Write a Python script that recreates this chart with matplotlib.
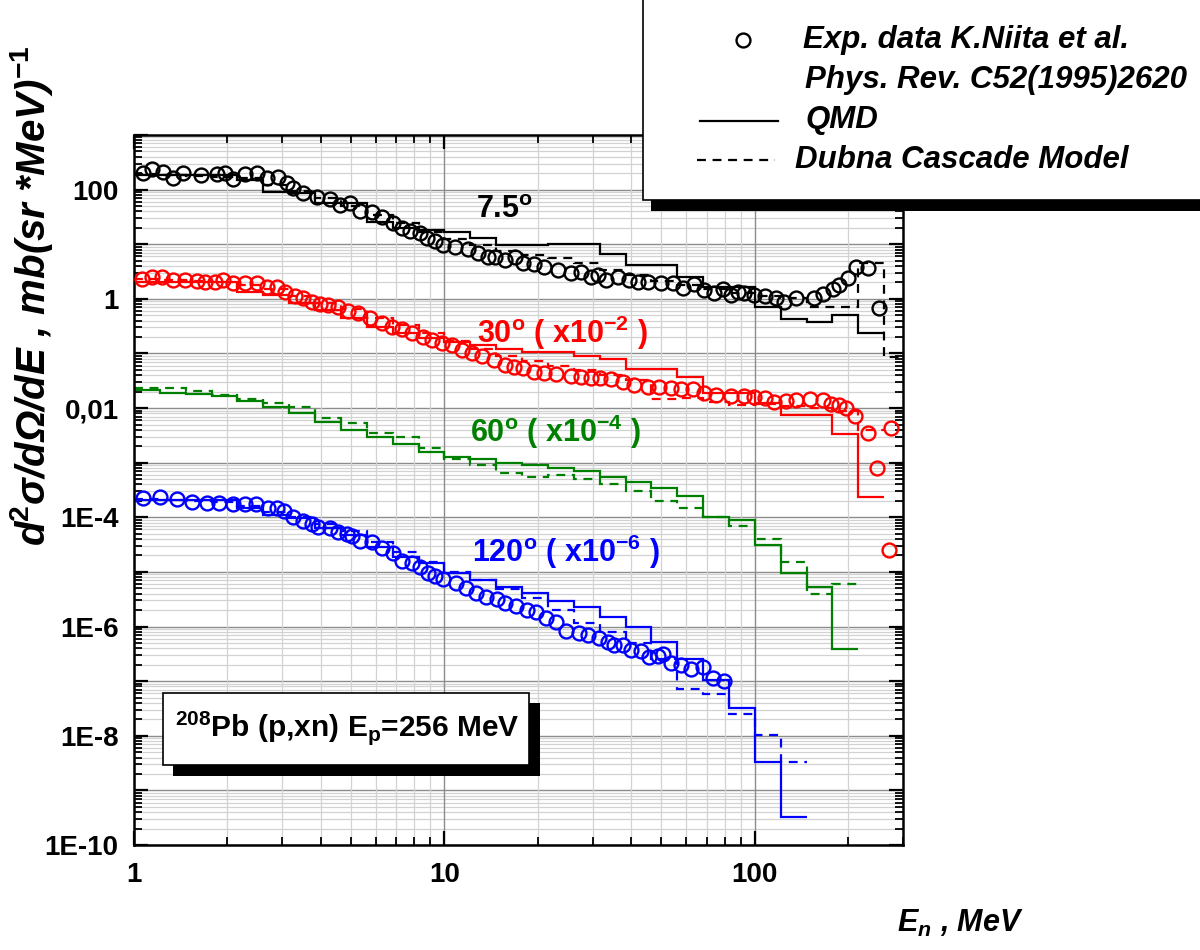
import numpy as np
import matplotlib
matplotlib.use('Agg')
import matplotlib.pyplot as plt
from matplotlib.ticker import FixedLocator, FuncFormatter, LogLocator, NullFormatter
from matplotlib.patches import Rectangle
from matplotlib.lines import Line2D

plt.rcParams['font.family'] = ['Liberation Sans', 'DejaVu Sans']
plt.rcParams['font.weight'] = 'bold'
plt.rcParams['mathtext.fontset'] = 'custom'
plt.rcParams['mathtext.rm'] = 'Liberation Sans:bold'
plt.rcParams['mathtext.it'] = 'Liberation Sans:bold:italic'
plt.rcParams['mathtext.bf'] = 'Liberation Sans:bold'

# energy bin edges of the model histograms (12 per decade), MeV
E_EDGES = [1.0, 1.212, 1.468, 1.778, 2.154, 2.610, 3.162, 3.831, 4.642, 5.623,
           6.813, 8.254, 10.0, 12.12, 14.68, 17.78, 21.54, 26.10, 31.62, 38.31,
           46.42, 56.23, 68.13, 82.54, 100.0, 121.2, 146.8, 177.8, 215.4, 261.0, 316.2]

# 7.5 deg
e_exp_75 = [1.07, 1.14, 1.24, 1.34, 1.44, 1.64, 1.85, 1.97, 2.09, 2.28, 2.49, 2.69, 2.91, 3.12, 3.26,
            3.51, 3.89, 4.29, 4.62, 4.98, 5.36, 5.86, 6.31, 6.85, 7.32, 7.77, 8.37, 8.81, 9.29, 9.93,
            10.8, 11.9, 12.8, 13.8, 14.6, 15.7, 16.9, 17.9, 19.4, 20.9, 23.2, 25.5, 27.5, 29.6, 31.2,
            33.1, 36.1, 39.2, 42.0, 45.2, 49.7, 54.4, 58.6, 63.6, 68.4, 73.7, 78.8, 83.7, 88.2, 92.2,
            99.3, 108, 117, 124, 136, 155, 166, 179, 187, 200, 212, 232, 251]
exp_75 = [205, 243, 214, 166, 205, 188, 196, 205, 159, 196, 205, 166, 173, 134, 109,
          88, 74.5, 68.4, 53.1, 57.8, 41.2, 39.5, 32.0, 24.9, 20.1, 17.7, 16.3, 13.2, 11.6, 9.84,
          9.04, 8.3, 7.02, 5.93, 5.93, 5.22, 5.93, 4.6, 4.41, 3.89, 3.43, 3.02, 3.15, 2.55, 2.77,
          2.25, 2.55, 2.25, 2.07, 2.07, 1.98, 1.98, 1.60, 1.90, 1.47, 1.30, 1.54, 1.19, 1.36, 1.30,
          1.19, 1.15, 1.05, 0.889, 1.05, 1.05, 1.25, 1.54, 1.82, 2.44, 3.89, 3.73, 0.69]
qmd_75 = [183, 183, 183, 183, 152, 92, 85, 58, 58, 26, 20, 18.5, 17, 13.2, 9.8, 9.8, 10.3, 10.3,
          6.7, 4.2, 4.2, 2.55, 1.67, 1.67, 0.72, 0.42, 0.37, 0.51, 0.24]
dcm_75 = [190, 185, 175, 170, 160, 120, 95, 70, 50, 35, 24, 17, 12.5, 9.5, 7.5, 6.4, 5.5, 4.6,
          3.4, 2.7, 2.1, 1.8, 1.5, 1.3, 1.15, 1.05, 0.72, 0.72, 4.6, 0.087]

# 30 deg (x1e-2)
e_exp_30 = [1.06, 1.14, 1.23, 1.34, 1.46, 1.60, 1.69, 1.83, 1.94, 2.09, 2.28, 2.49, 2.69, 2.89, 3.07,
            3.30, 3.51, 3.75, 3.98, 4.22, 4.54, 4.89, 5.27, 5.76, 6.31, 6.79, 7.31,
            7.87, 8.5, 9.15, 9.84, 10.6, 11.4, 12.3, 13.2, 14.4,
            15.7, 16.7, 17.9, 19.4, 20.9, 22.8, 25.5, 27.5, 29.6, 31.8, 34.3, 37.5, 40.7, 45.2, 49.0,
            53.6, 57.7, 63.1, 68.4, 74.9, 83.7, 92.2, 99.3, 108, 115, 126, 136, 150, 166, 176,
            187, 196, 210, 232, 247, 274, 271]
exp_30 = [2.34, 2.55, 2.55, 2.25, 2.25, 2.16, 2.07, 2.07, 2.25, 1.98, 1.98, 1.98, 1.67, 1.67, 1.36,
          1.15, 1.05, 0.889, 0.817, 0.783, 0.72, 0.608, 0.559, 0.453, 0.366, 0.31, 0.284,
          0.24, 0.203, 0.18, 0.158, 0.14, 0.117, 0.103, 0.091, 0.077,
          0.0624, 0.0573, 0.0549, 0.0464, 0.0445, 0.0427, 0.0392, 0.0376, 0.036, 0.036, 0.0345, 0.0305,
          0.0268, 0.0247, 0.0247, 0.0236, 0.0227, 0.0227, 0.0191, 0.0176, 0.0169, 0.0169, 0.0162,
          0.0155, 0.0131, 0.0137, 0.0143, 0.0149, 0.0143, 0.012, 0.0115, 0.0102, 0.00726, 0.00354,
          0.00081, 0.00437, 2.55e-5]
qmd_30 = [2.07, 2.07, 2.07, 2.07, 1.36, 1.19, 0.85, 0.634, 0.453, 0.31, 0.24, 0.19, 0.165, 0.14,
          0.122, 0.108, 0.108, 0.088, 0.078, 0.0527, 0.0527, 0.0376, 0.0191, 0.0191, 0.0126,
          0.0076, 0.0076, 0.0033, 0.00024]
dcm_30 = [2.3, 2.2, 2.1, 2.0, 1.8, 1.5, 1.15, 0.85, 0.65, 0.45, 0.33, 0.24, 0.17, 0.12, 0.09,
          0.074, 0.06, 0.05, 0.04, 0.032, 0.0149, 0.015, 0.013, 0.0115, 0.012, 0.011, 0.010,
          0.009, 0.004]

# 60 deg (x1e-4), models only
qmd_60 = [0.0217, 0.0191, 0.0184, 0.0169, 0.0137, 0.0106, 0.00824, 0.00564, 0.00402, 0.00299,
          0.00223, 0.00159, 0.00129, 0.00118, 0.0010, 0.00092, 0.0008, 0.0007, 0.00055, 0.00045,
          0.00035, 0.00025, 1.03e-4, 9e-5, 3.1e-5, 9.7e-6, 5.4e-6, 3.9e-7]
dcm_60 = [0.0236, 0.0236, 0.0208, 0.0176, 0.0149, 0.0126, 0.0106, 0.00667, 0.0054, 0.00354,
          0.0030, 0.00188, 0.00118, 0.00092, 0.00066, 0.00055, 0.0006, 0.0005, 0.0004, 0.0003,
          0.0002, 0.00015, 1.0e-4, 7e-5, 4e-5, 1.5e-5, 4e-6, 6.1e-6]

# 120 deg (x1e-6)
e_exp_120 = [1.07, 1.21, 1.38, 1.54, 1.72, 1.88, 2.09, 2.28, 2.48, 2.71, 2.89, 3.05, 3.26, 3.51,
             3.75, 3.92, 4.29, 4.55, 4.87, 5.05, 5.36, 5.86, 6.31, 6.85, 7.32, 7.89, 8.37, 8.82,
             9.35, 9.93, 10.9, 11.7, 12.6, 13.6, 14.8, 15.7, 17.0, 18.5, 19.7, 21.2, 22.8, 24.6,
             27.1, 29.1, 31.4, 33.6, 35.1, 37.5, 39.8, 42.9, 45.5, 48.7, 50.5, 53.6, 57.7, 62.2,
             68.0, 73.2, 79.4]
exp_120 = [2.29e-4, 2.38e-4, 2.19e-4, 1.93e-4, 1.85e-4, 1.85e-4, 1.77e-4, 1.77e-4, 1.77e-4,
           1.50e-4, 1.50e-4, 1.32e-4, 1.03e-4, 8.67e-5, 7.64e-5, 6.73e-5, 6.46e-5, 5.45e-5,
           5.01e-5, 4.61e-5, 3.73e-5, 3.57e-5, 2.77e-5, 2.25e-5, 1.60e-5, 1.47e-5, 1.24e-5,
           9.66e-6, 8.51e-6, 7.5e-6, 6.34e-6, 5.14e-6, 4.16e-6, 3.52e-6, 3.23e-6, 2.73e-6,
           2.40e-6, 2.03e-6, 1.87e-6, 1.45e-6, 1.22e-6, 8.38e-7, 7.69e-7, 7.08e-7, 6.24e-7,
           5.27e-7, 4.64e-7, 4.64e-7, 3.76e-7, 3.61e-7, 2.80e-7, 2.92e-7, 3.18e-7, 2.17e-7,
           2.0e-7, 1.69e-7, 1.84e-7, 1.15e-7, 1.02e-7]
qmd_120 = [2.1e-4, 2.1e-4, 2.1e-4, 2.1e-4, 1.5e-4, 1.12e-4, 9.8e-5, 6.5e-5, 4.8e-5, 2.9e-5,
           1.9e-5, 1.47e-5, 9.66e-6, 7.2e-6, 5.36e-6, 4.16e-6, 2.97e-6, 2.31e-6, 1.51e-6,
           9.9e-7, 5.27e-7, 2.57e-7, 1.06e-7, 3.26e-8, 3.34e-9, 3.28e-10]
dcm_120 = [2.2e-4, 2.1e-4, 2.0e-4, 1.9e-4, 1.6e-4, 1.25e-4, 1.0e-4, 7.5e-5, 5.5e-5, 3.6e-5,
           2.3e-5, 1.5e-5, 1.0e-5, 7.0e-6, 4.8e-6, 3.3e-6, 2.0e-6, 1.17e-6, 8.0e-7, 5.0e-7,
           2.5e-7, 7.3e-8, 5.9e-8, 2.5e-8, 1.04e-8, 3.3e-9]

Y_LABELS = {2: '100', 0: '1', -2: '0,01', -4: '1E-4', -6: '1E-6', -8: '1E-8', -10: '1E-10'}

W, H = 1200, 950
fig = plt.figure(figsize=(W / 100, H / 100), dpi=100)


def fx(px):
    return px / W


def fy(py):
    return 1 - py / H


ax = fig.add_axes([fx(134), fy(845), (903 - 134) / W, (845 - 135) / H])
ax.set_xscale('log')
ax.set_yscale('log')
ax.set_xlim(1, 300)
ax.set_ylim(1e-10, 1e3)

ax.xaxis.set_major_locator(FixedLocator([1, 10, 100]))
ax.xaxis.set_major_formatter(FuncFormatter(lambda v, p: '%d' % round(v)))
ax.xaxis.set_minor_locator(LogLocator(base=10, subs=np.arange(2, 10), numticks=30))
ax.xaxis.set_minor_formatter(NullFormatter())
ax.yaxis.set_major_locator(FixedLocator([10.0 ** k for k in range(-10, 4)]))
ax.yaxis.set_major_formatter(FuncFormatter(lambda v, p: Y_LABELS.get(int(round(np.log10(v))), '')))
ax.yaxis.set_minor_locator(LogLocator(base=10, subs=np.arange(2, 10), numticks=30))
ax.yaxis.set_minor_formatter(NullFormatter())

ax.grid(which='major', color='#8c8c8c', lw=1.0)
ax.grid(which='minor', color='#d2d2d2', lw=0.9)
ax.set_axisbelow(True)
# draw the x axis after the y axis so horizontal grid lines don't cut the top/bottom ticks
ax.yaxis.set_zorder(0.5)
ax.xaxis.set_zorder(0.6)
ax.tick_params(which='both', direction='in', top=True, right=True, labelsize=20)
ax.tick_params(which='major', length=10, width=1.6)
ax.tick_params(which='minor', length=6, width=1.3)
ax.tick_params(axis='x', pad=12)
ax.tick_params(axis='y', pad=11)
for s in ax.spines.values():
    s.set_linewidth(1.8)

DASH = (0, (4, 3))
series = [
    ('black', e_exp_75, exp_75, qmd_75, dcm_75),
    ('#ff0000', e_exp_30, exp_30, qmd_30, dcm_30),
    ('#008000', None, None, qmd_60, dcm_60),
    ('#0000ff', e_exp_120, exp_120, qmd_120, dcm_120),
]
for col, ee, vv, qmd, dcm in series:
    ax.stairs(dcm, E_EDGES[:len(dcm) + 1], baseline=None, color=col, lw=1.6, ls=DASH, zorder=2)
    ax.stairs(qmd, E_EDGES[:len(qmd) + 1], baseline=None, color=col, lw=1.6, zorder=2)
    if ee is not None:
        ax.plot(ee, vv, 'o', ms=10, mfc='none', mec=col, mew=1.7, zorder=3)

ang_kw = dict(transform=ax.transAxes, fontsize=22, va='baseline')
ax.text(0.445, 0.883, r'7.5$^{\mathrm{o}}$', color='black', **ang_kw)
ax.text(0.446, 0.707, r'30$^{\mathrm{o}}$ ( x10$^{-2}$ )', color='#ff0000', **ang_kw)
ax.text(0.437, 0.5676, r'60$^{\mathrm{o}}$ ( x10$^{-4}$ )', color='#008000', **ang_kw)
ax.text(0.44, 0.3986, r'120$^{\mathrm{o}}$ ( x10$^{-6}$ )', color='#0000ff', **ang_kw)

# reaction box with shadow
fig.add_artist(Rectangle((fx(173), fy(776)), fx(540) - fx(173), fy(703) - fy(776),
                         transform=fig.transFigure, facecolor='black', edgecolor='none', zorder=8))
fig.add_artist(Rectangle((fx(163), fy(765)), fx(529) - fx(163), fy(693) - fy(765),
                         transform=fig.transFigure, facecolor='white', edgecolor='black',
                         lw=1.2, zorder=9))
fig.text(fx(175), fy(736), r'$^{208}$Pb (p,xn) E$_{\mathrm{p}}$=256 MeV', fontsize=21.5,
         va='baseline', zorder=10)

# legend box with shadow
fig.add_artist(Rectangle((fx(651), fy(211)), 1, 1, transform=fig.transFigure,
                         facecolor='black', edgecolor='none', zorder=8))
fig.add_artist(Rectangle((fx(643), fy(200)), 1, 1, transform=fig.transFigure,
                         facecolor='white', edgecolor='black', lw=1.2, zorder=9))
fig.add_artist(Line2D([fx(743)], [fy(40)], marker='o', ms=10, mfc='none', mec='black',
                      mew=1.7, transform=fig.transFigure, zorder=10))
fig.add_artist(Line2D([fx(700), fx(778)], [fy(121), fy(121)], color='black', lw=1.6,
                      transform=fig.transFigure, zorder=10))
fig.add_artist(Line2D([fx(697), fx(775)], [fy(160), fy(160)], color='black', lw=1.6, ls=DASH,
                      transform=fig.transFigure, zorder=10))
leg_kw = dict(fontsize=22.5, style='italic', va='baseline', zorder=10)
fig.text(fx(803), fy(48), 'Exp. data K.Niita et al.', **leg_kw)
fig.text(fx(805), fy(88), 'Phys. Rev. C52(1995)2620', **leg_kw)
fig.text(fx(805), fy(128), 'QMD', **leg_kw)
fig.text(fx(795), fy(168), 'Dubna Cascade Model', **leg_kw)

fig.text(fx(32), fy(296), r'd$^{2}$σ/dΩ/dE , mb(sr *MeV)$^{-1}$', rotation=90,
         fontsize=29, style='italic', ha='center', va='center')
fig.text(fx(897), fy(932), r'E$_{n}$ , MeV', fontsize=22, style='italic', va='baseline')

fig.savefig('out.png', dpi=100)
